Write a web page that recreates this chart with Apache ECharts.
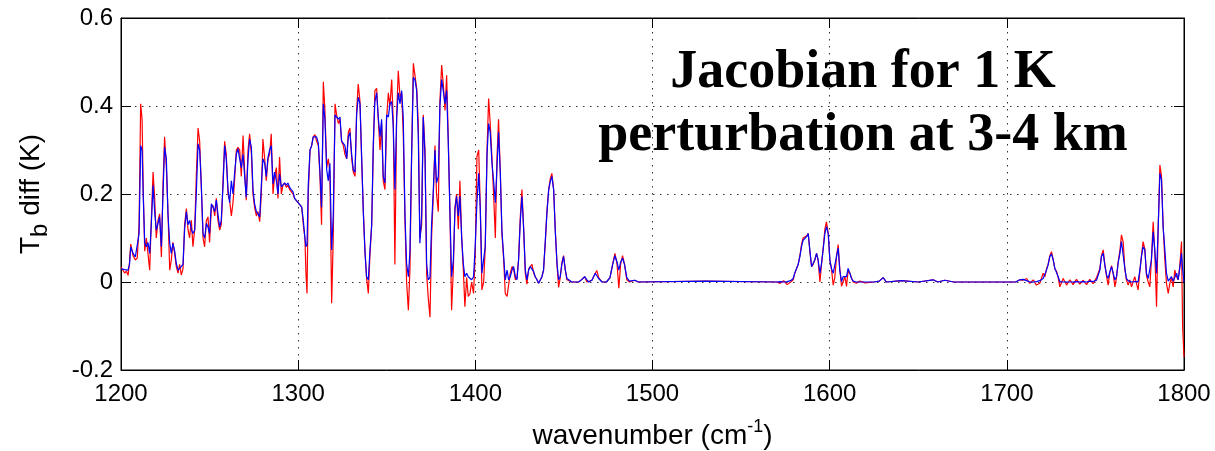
<!DOCTYPE html>
<html>
<head>
<meta charset="utf-8">
<script src="https://cdn.jsdelivr.net/npm/echarts@6/dist/echarts.min.js"></script>
<style>
  html, body { margin: 0; padding: 0; background: #fff; }
  #chart { width: 1215px; height: 451px; }
</style>
</head>
<body>
<div id="chart"></div>
<script>
// wavenumber (cm^-1) sample positions
const wavenumber = [
1200.0,1201.0,1202.1,1203.0,1204.0,1204.8,1205.5,1206.8,1208.1,1209.2,1210.2,1211.1,1211.9,1212.6,1213.4,1214.3,1215.2,1216.2,1217.1,1218.1,
1219.0,1219.9,1220.9,1221.8,1222.8,1223.7,1224.6,1225.6,1226.5,1227.5,1228.4,1229.3,1230.3,1231.2,1232.2,1233.1,1234.0,1235.0,1235.9,1236.9,
1237.8,1238.7,1239.7,1240.6,1241.6,1242.5,1243.5,1244.4,1245.3,1246.3,1247.2,1248.2,1249.1,1250.0,1251.0,1251.9,1252.9,1253.8,1254.7,1255.7,
1256.6,1257.6,1258.5,1259.4,1260.4,1261.3,1262.3,1263.2,1264.1,1265.1,1266.0,1267.0,1267.9,1268.9,1269.8,1270.7,1271.7,1272.6,1273.6,1274.5,
1275.4,1276.4,1277.3,1278.3,1279.2,1280.1,1281.1,1282.0,1283.0,1283.9,1284.8,1285.8,1286.7,1287.7,1288.6,1289.5,1290.5,1291.4,1292.4,1293.3,
1294.2,1295.2,1296.1,1297.1,1298.0,1299.0,1300.1,
1301.0,1302.0,1302.9,1303.8,1304.4,1305.0,1305.7,1306.7,1307.6,1308.5,1309.5,1310.4,1311.4,1312.3,1313.2,1314.2,1315.1,1316.1,1317.0,1317.9,
1318.9,1319.8,1320.8,1321.7,1322.7,1323.6,1324.5,1325.5,1326.4,1327.4,1328.3,1329.2,1330.2,1331.1,1332.1,1333.0,1333.9,1334.9,1335.8,1336.8,
1337.7,1338.6,1339.6,1340.5,1341.5,1342.4,1343.3,1344.3,1345.2,1346.2,1347.1,1348.0,1349.0,1349.9,1350.9,1351.8,1352.8,1353.7,1354.6,1355.6,
1356.5,1357.5,1358.4,1359.3,1360.3,1361.2,1362.2,1363.1,1364.0,1365.0,1365.9,1366.9,1367.8,1368.7,1369.7,1370.6,1371.6,1372.5,1373.4,1374.4,
1375.3,1376.3,1377.2,1378.1,1379.1,1380.0,1381.0,1381.9,1382.9,1383.8,1384.7,1385.7,1386.6,1387.6,1388.5,1389.4,1390.4,1391.3,1392.3,1393.2,
1394.1,1395.1,1396.0,1397.0,1397.9,1399.0,
1400.0,1400.9,1401.9,1402.8,1403.7,1404.7,1405.6,1406.6,1407.5,1408.4,1409.4,1410.3,1411.3,1412.2,1413.1,1414.1,1415.0,1416.0,1416.9,1417.9,
1418.8,1419.7,1420.7,1421.6,1422.6,1423.5,1424.4,1425.4,1426.3,1427.3,1428.2,1429.1,1430.1,1431.0,1432.0,1432.9,1433.8,1434.8,1435.7,1436.7,
1437.6,1438.5,1439.5,1440.4,1441.4,1442.3,1443.2,1444.2,1445.1,1446.1,1447.0,1447.9,1448.9,1449.8,1450.8,1451.7,1452.7,1454.5,1458.3,1460.2,
1461.7,1463.0,1464.0,1465.8,1467.7,1468.6,1469.6,1471.5,1474.0,1476.0,1477.5,1478.8,1480.0,1481.0,1482.0,1483.1,1484.2,1485.5,1487.0,1490.0,
1492.0,1530.0,1570.0,
1572.0,1574.0,1576.0,1578.0,1579.4,1580.3,1581.3,1582.2,1583.2,1584.1,1585.0,1586.0,1587.0,1587.9,1588.8,1589.8,1590.7,1591.6,1592.6,1593.5,
1594.5,1595.4,1596.3,1597.3,1598.2,1599.2,1600.1,1601.0,1602.0,1602.9,1603.9,1604.8,1605.7,1606.7,1607.6,1608.6,1609.5,1610.4,1611.4,1612.3,
1613.3,1615.0,1617.0,1620.0,1625.0,1628.0,1630.2,1632.0,1640.5,1650.0,1658.4,1661.0,1665.0,1670.0,1700.0,1705.0,
1707.3,1709.2,1711.1,1713.0,1714.9,1716.7,1718.6,1720.5,1721.5,1722.4,1723.3,1724.3,1725.2,1726.2,1727.1,1728.0,1729.0,1729.9,1731.8,1733.7,
1735.6,1737.4,1739.3,1741.2,1743.1,1745.0,1746.8,1748.7,1750.6,1751.5,1752.5,1753.4,1754.4,1755.3,1756.3,1757.2,1758.1,1759.1,1760.0,1761.0,
1761.9,1762.8,1763.8,1764.7,1765.7,1766.6,1767.5,1768.5,1769.4,1770.4,1772.2,1774.1,1775.1,1776.0,1776.9,1777.9,1778.8,1779.8,1780.7,1781.6,
1782.6,1783.5,1784.5,1785.4,1786.4,1787.3,1788.2,1789.2,1790.1,1791.1,1792.0,1792.9,1793.9,1794.8,1795.8,1796.7,1797.6,1798.6,1799.2,1800.0
];

// Tb difference (K), red curve
const tbDiffRed = [
0.034,0.030,0.020,0.025,0.015,0.045,0.086,0.060,0.050,0.055,0.130,0.405,0.370,0.200,0.070,0.100,0.100,0.027,0.140,0.250,
0.190,0.100,0.140,0.155,0.057,0.220,0.330,0.260,0.160,0.027,0.050,0.090,0.065,0.035,0.020,0.040,0.016,0.030,0.130,0.167,
0.120,0.100,0.140,0.080,0.120,0.240,0.350,0.320,0.220,0.100,0.080,0.140,0.148,0.090,0.170,0.175,0.150,0.190,0.140,0.118,
0.130,0.230,0.320,0.290,0.200,0.186,0.150,0.180,0.230,0.300,0.306,0.300,0.240,0.333,0.250,0.186,0.300,0.337,0.290,0.200,
0.170,0.150,0.160,0.137,0.200,0.325,0.280,0.230,0.280,0.290,0.337,0.200,0.240,0.260,0.190,0.284,0.200,0.220,0.225,0.215,
0.220,0.210,0.210,0.200,0.190,0.185,0.180,
0.175,0.170,0.130,0.100,0.020,-0.026,0.200,0.300,0.310,0.330,0.335,0.320,0.310,0.240,0.130,0.455,0.390,0.260,0.280,0.250,
-0.048,0.100,0.405,0.380,0.360,0.370,0.320,0.310,0.290,0.280,0.340,0.350,0.280,0.250,0.240,0.390,0.450,0.410,0.280,0.160,
0.070,0.010,-0.026,0.060,0.130,0.300,0.435,0.440,0.370,0.300,0.360,0.230,0.210,0.370,0.430,0.400,0.460,0.360,0.040,0.380,
0.480,0.420,0.430,0.340,0.140,0.000,-0.064,0.030,0.280,0.497,0.470,0.440,0.360,0.100,0.130,0.380,0.300,0.020,-0.035,-0.080,
0.100,0.200,0.310,0.200,0.160,0.410,0.493,0.450,0.390,0.470,0.330,0.150,-0.064,0.030,0.170,0.200,0.120,0.230,0.100,0.030,
-0.056,0.010,-0.033,-0.026,0.000,-0.026,
0.070,0.285,0.300,0.170,-0.018,0.000,0.080,0.300,0.417,0.360,0.280,0.200,0.100,0.280,0.370,0.250,0.110,0.050,-0.026,-0.033,
-0.033,0.020,0.035,0.030,0.005,0.010,0.050,0.150,0.210,0.120,0.020,-0.005,0.030,0.030,0.040,0.020,0.012,0.005,-0.003,0.000,
0.012,0.027,0.090,0.160,0.210,0.235,0.247,0.210,0.120,0.040,-0.012,0.010,0.045,0.060,0.027,0.005,0.003,0.000,0.000,0.006,
0.012,0.000,-0.003,0.004,0.020,0.026,0.010,0.000,0.000,0.010,0.040,0.065,0.040,-0.014,0.040,0.060,0.040,0.005,0.000,0.004,
0.000,0.002,0.000,
-0.003,0.003,-0.006,0.000,0.005,0.020,0.030,0.040,0.060,0.085,0.100,0.100,0.105,0.110,0.070,0.035,0.040,0.050,0.065,0.048,
0.000,0.040,0.075,0.120,0.137,0.110,0.050,0.030,-0.007,0.010,0.060,0.085,0.030,-0.010,-0.010,0.012,-0.010,0.025,0.020,0.010,
0.000,-0.003,0.002,-0.002,0.000,0.002,0.010,0.000,0.003,0.000,0.005,0.000,0.004,0.000,0.000,0.000,
0.005,0.004,0.008,-0.003,0.005,-0.007,-0.003,0.020,0.012,0.030,0.040,0.060,0.069,0.050,0.030,0.025,0.010,-0.011,0.008,-0.007,
0.005,-0.006,0.006,-0.005,0.004,-0.006,0.006,-0.004,0.010,0.012,0.030,0.060,0.073,0.040,0.012,-0.007,0.020,0.037,0.020,-0.011,
0.010,0.045,0.070,0.107,0.090,0.030,0.005,-0.007,0.005,-0.011,0.012,-0.018,0.025,0.060,0.092,0.075,0.015,0.000,-0.011,0.050,
0.137,0.070,-0.056,0.120,0.266,0.240,0.130,0.050,-0.003,-0.026,-0.003,0.010,-0.011,0.027,0.012,0.005,0.035,0.092,-0.100,-0.170
];

// Tb difference (K), blue curve
const tbDiffBlue = [
0.030,0.029,0.028,0.027,0.027,0.040,0.080,0.065,0.057,0.060,0.110,0.310,0.300,0.190,0.088,0.080,0.090,0.065,0.130,0.220,
0.160,0.118,0.120,0.148,0.080,0.200,0.306,0.280,0.155,0.088,0.065,0.088,0.070,0.042,0.027,0.030,0.035,0.040,0.120,0.160,
0.130,0.140,0.120,0.110,0.118,0.200,0.314,0.300,0.223,0.110,0.100,0.133,0.125,0.110,0.178,0.170,0.160,0.186,0.155,0.125,
0.140,0.220,0.310,0.280,0.210,0.180,0.230,0.200,0.246,0.290,0.303,0.280,0.260,0.290,0.240,0.193,0.280,0.325,0.306,0.210,
0.178,0.160,0.155,0.148,0.220,0.280,0.270,0.240,0.284,0.300,0.310,0.223,0.250,0.230,0.200,0.246,0.216,0.220,0.225,0.220,
0.225,0.215,0.210,0.205,0.190,0.185,0.180,
0.178,0.170,0.140,0.100,0.080,0.085,0.220,0.300,0.310,0.330,0.330,0.330,0.315,0.250,0.170,0.405,0.370,0.255,0.230,0.270,
0.073,0.150,0.380,0.375,0.370,0.375,0.320,0.315,0.310,0.280,0.330,0.340,0.290,0.255,0.250,0.380,0.420,0.405,0.290,0.155,
0.070,0.012,0.005,0.070,0.130,0.315,0.410,0.430,0.375,0.330,0.370,0.240,0.225,0.380,0.375,0.405,0.410,0.350,0.210,0.375,
0.430,0.405,0.435,0.375,0.150,0.042,0.012,0.070,0.280,0.465,0.460,0.435,0.330,0.088,0.150,0.375,0.285,0.042,0.005,0.010,
0.130,0.210,0.300,0.225,0.240,0.400,0.460,0.435,0.405,0.435,0.320,0.155,0.012,0.050,0.165,0.195,0.150,0.195,0.100,0.042,
0.012,0.020,0.012,0.012,0.005,0.012,
0.088,0.180,0.247,0.164,0.020,0.020,0.080,0.290,0.360,0.340,0.270,0.230,0.180,0.260,0.340,0.247,0.118,0.058,0.005,0.027,
0.005,0.012,0.027,0.035,0.012,0.005,0.050,0.140,0.194,0.118,0.027,0.005,0.027,0.035,0.039,0.024,0.012,0.005,-0.003,0.001,
0.012,0.027,0.095,0.156,0.210,0.228,0.240,0.210,0.118,0.042,0.005,0.012,0.042,0.058,0.027,0.008,0.005,0.000,0.000,0.006,
0.012,0.005,0.000,0.004,0.020,0.024,0.008,0.000,0.000,0.010,0.040,0.060,0.045,0.027,0.045,0.054,0.040,0.010,0.002,0.004,
0.000,0.002,0.000,
0.001,0.000,0.001,0.003,0.008,0.020,0.031,0.039,0.058,0.080,0.095,0.097,0.103,0.110,0.073,0.035,0.038,0.050,0.065,0.050,
0.020,0.042,0.073,0.110,0.126,0.110,0.050,0.031,0.020,0.016,0.058,0.077,0.027,0.001,0.012,0.016,0.012,0.031,0.020,0.008,
0.002,0.000,0.000,0.000,0.000,0.002,0.010,0.000,0.003,0.000,0.005,0.000,0.004,0.000,0.000,0.000,
0.005,0.006,0.003,0.000,0.000,0.001,0.003,0.008,0.012,0.027,0.039,0.058,0.064,0.050,0.031,0.027,0.012,0.001,0.000,0.000,
0.000,0.000,0.001,0.000,0.001,0.000,0.002,0.001,0.004,0.005,0.027,0.058,0.065,0.039,0.016,0.008,0.023,0.035,0.020,0.005,
0.012,0.042,0.065,0.092,0.088,0.031,0.008,0.003,0.001,0.000,0.001,0.001,0.027,0.058,0.080,0.073,0.020,0.008,0.012,0.050,
0.114,0.073,0.020,0.118,0.247,0.232,0.126,0.073,0.020,0.002,0.005,0.012,0.002,0.005,0.020,0.005,0.031,0.065,0.030,0.000
];

const xTicks = [1200, 1300, 1400, 1500, 1600, 1700, 1800];
const yTicks = [-0.2, 0, 0.2, 0.4, 0.6];
const titleLines = ['Jacobian for 1 K', 'perturbation at 3-4 km'];

const SANS = '"Liberation Sans", Arial, Helvetica, sans-serif';
const SERIF = '"Liberation Serif", "Times New Roman", serif';

const chart = echarts.init(document.getElementById('chart'), null, { renderer: 'canvas' });

const gridLine = { show: true, lineStyle: { color: '#333', width: 1, type: [1.5, 5.5] } };
const tickStyle = { show: true, inside: true, length: 10, lineStyle: { color: '#000', width: 1 } };
const boxLine = { show: true, onZero: false, lineStyle: { color: '#000', width: 1 } };

chart.setOption({
  animation: false,
  backgroundColor: '#fff',
  grid: {
    left: 121, right: 31, top: 18, bottom: 81,
    containLabel: false, outerBoundsMode: 'none',
    show: true, borderColor: '#000', borderWidth: 1, backgroundColor: 'transparent'
  },
  xAxis: [
    {
      type: 'value', min: xTicks[0], max: xTicks[xTicks.length - 1], interval: 100,
      position: 'bottom',
      axisLine: boxLine,
      axisTick: tickStyle,
      splitLine: gridLine,
      axisLabel: { color: '#000', fontFamily: SANS, fontSize: 24, margin: 12, formatter: v => String(v) },
      name: '{a|wavenumber (cm}{s|-1}{a|)}',
      nameLocation: 'middle', nameGap: 48,
      nameTextStyle: {
        rich: {
          a: { fontFamily: SANS, fontSize: 28, color: '#000', lineHeight: 36 },
          s: { fontFamily: SANS, fontSize: 18, color: '#000', verticalAlign: 'top' }
        }
      }
    },
    {
      type: 'value', min: xTicks[0], max: xTicks[xTicks.length - 1], interval: 100,
      position: 'top',
      axisLine: boxLine,
      axisTick: tickStyle, axisLabel: { show: false }, splitLine: { show: false }
    }
  ],
  yAxis: [
    {
      type: 'value', min: yTicks[0], max: yTicks[yTicks.length - 1], interval: 0.2,
      position: 'left',
      axisLine: boxLine,
      axisTick: tickStyle,
      splitLine: gridLine,
      axisLabel: {
        color: '#000', fontFamily: SANS, fontSize: 24, margin: 8,
        formatter: v => String(Math.round(v * 10) / 10)
      },
      name: '{a|T}{s|b}{a| diff (K)}',
      nameLocation: 'middle', nameGap: 69, nameRotate: 90,
      nameTextStyle: {
        rich: {
          a: { fontFamily: SANS, fontSize: 28, color: '#000', lineHeight: 42 },
          s: { fontFamily: SANS, fontSize: 24, color: '#000', verticalAlign: 'bottom' }
        }
      }
    },
    {
      type: 'value', min: yTicks[0], max: yTicks[yTicks.length - 1], interval: 0.2,
      position: 'right',
      axisLine: boxLine,
      axisTick: tickStyle, axisLabel: { show: false }, splitLine: { show: false }
    }
  ],
  series: [
    {
      name: 'red', type: 'line', xAxisIndex: 0, yAxisIndex: 0,
      data: wavenumber.map((w, i) => [w, tbDiffRed[i]]),
      showSymbol: false, symbol: 'none',
      lineStyle: { color: '#ff0000', width: 1.2 }, z: 2
    },
    {
      name: 'blue', type: 'line', xAxisIndex: 0, yAxisIndex: 0,
      data: wavenumber.map((w, i) => [w, tbDiffBlue[i]]),
      showSymbol: false, symbol: 'none',
      lineStyle: { color: '#0000ff', width: 1.2 }, z: 3
    }
  ],
  graphic: [
    {
      type: 'text', z: 10,
      x: 863, y: 42,
      style: {
        text: titleLines.join('\n'),
        font: 'bold 54px ' + SERIF,
        fill: '#000',
        align: 'center',
        verticalAlign: 'top',
        textAlign: 'center',
        textVerticalAlign: 'top',
        lineHeight: 63
      }
    }
  ]
});
</script>
</body>
</html>
